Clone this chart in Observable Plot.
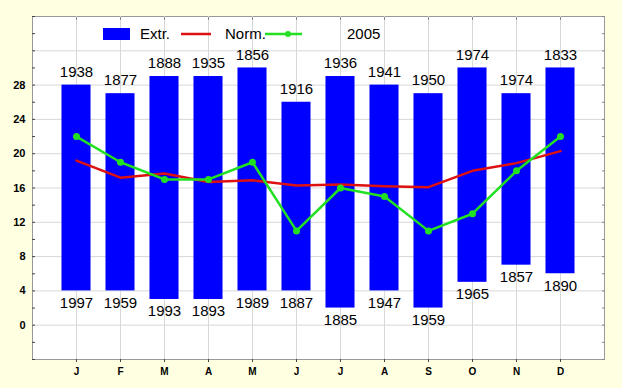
<!DOCTYPE html>
<html>
<head>
<meta charset="utf-8">
<script src="https://cdn.jsdelivr.net/npm/d3@7"></script>
<script src="https://cdn.jsdelivr.net/npm/@observablehq/plot@0.6"></script>
<style>
  html, body { margin: 0; padding: 0; background: #FFFFE1; }
  #chart { width: 622px; height: 388px; overflow: hidden; }
</style>
</head>
<body>
<div id="chart"></div>
<script>
const monthKeys = ["Jan","Feb","Mar","Apr","May","Jun","Jul","Aug","Sep","Oct","Nov","Dec"];
const monthLabels = ["J","F","M","A","M","J","J","A","S","O","N","D"];
const maxTemp = [28,27,29,29,30,26,29,28,27,30,27,30];
const minTemp = [4,4,3,3,4,4,2,4,2,5,7,6];
const maxYear = ["1938","1877","1888","1935","1856","1916","1936","1941","1950","1974","1974","1833"];
const minYear = ["1997","1959","1993","1893","1989","1887","1885","1947","1959","1965","1857","1890"];
const normTemp = [19.2,17.2,17.7,16.7,16.9,16.3,16.4,16.2,16.1,18.0,18.9,20.3];
const temp2005 = [22,19,17,17,19,11,16,15,11,13,18,22];
const yTickLabels = [0,4,8,12,16,20,24,28];
const yGrid = [0,4,8,12,16,20,24,28,32];
const yMinor = d3.range(-4, 37, 2);
const legendLabels = ["Extr.", "Norm.", "2005"];

const data = monthKeys.map((m, i) => ({
  m, lo: minTemp[i], hi: maxTemp[i], loYear: minYear[i], hiYear: maxYear[i],
  norm: normTemp[i], v2005: temp2005[i]
}));

const BLUE = "#0000FF", RED = "#DD1111", GREEN = "#22E022";
const font = "'Liberation Sans', Arial, sans-serif";
const noLabel = () => "";

const plot = Plot.plot({
  width: 622,
  height: 388,
  marginLeft: 32, marginRight: 18, marginTop: 16, marginBottom: 29,
  style: { background: "transparent", fontFamily: font, color: "#000" },
  x: { type: "band", domain: monthKeys, paddingInner: 0.34, paddingOuter: 0.67, round: false },
  y: { domain: [-4, 36] },
  marks: [
    Plot.frame({ fill: "white", stroke: "#999" }),
    Plot.gridX({ stroke: "#d8d8d8", strokeOpacity: 1 }),
    Plot.gridY(yGrid, { stroke: "#d8d8d8", strokeOpacity: 1 }),
    Plot.barY(data, { x: "m", y1: "lo", y2: "hi", fill: BLUE }),
    Plot.lineY(data, { x: "m", y: "norm", stroke: RED, strokeWidth: 2.5 }),
    Plot.lineY(data, { x: "m", y: "v2005", stroke: GREEN, strokeWidth: 2.5 }),
    Plot.dot(data, { x: "m", y: "v2005", fill: GREEN, r: 3.5 }),
    Plot.text(data, { x: "m", y: "hi", text: "hiYear", dy: -13, fontSize: 15, fill: "#000" }),
    Plot.text(data, { x: "m", y: "lo", text: "loYear", dy: 12, fontSize: 15, fill: "#000" }),
    Plot.axisY(yMinor, { anchor: "left", tickSize: -3, tickFormat: noLabel, label: null, stroke: "#444" }),
    Plot.axisY(yMinor, { anchor: "right", tickSize: -3, tickFormat: noLabel, label: null, stroke: "#888" }),
    Plot.axisY(yTickLabels, { anchor: "left", tickSize: 0, tickPadding: 7, label: null, fontSize: 11, fontWeight: "bold", line: true, stroke: "#444" }),
    Plot.axisX({ anchor: "bottom", tickSize: 3, tickPadding: 5, label: null, fontSize: 10, fontWeight: "bold", line: true, stroke: "#444", tickFormat: (d) => monthLabels[monthKeys.indexOf(d)] }),
    Plot.axisX({ anchor: "top", tickSize: -3, tickFormat: noLabel, label: null, stroke: "#888" })
  ]
});

document.getElementById("chart").appendChild(plot);

// Legend inside the plot area
const svg = d3.select(plot);
const lg = svg.append("g").attr("font-family", font).attr("font-size", 15).attr("text-anchor", "start").attr("fill", "#000");
lg.append("rect").attr("x", 103).attr("y", 28).attr("width", 27).attr("height", 12).attr("fill", BLUE);
lg.append("text").attr("x", 140).attr("y", 39).text(legendLabels[0]);
lg.append("line").attr("x1", 181).attr("x2", 211).attr("y1", 34).attr("y2", 34).attr("stroke", RED).attr("stroke-width", 2.5);
lg.append("text").attr("x", 225).attr("y", 39).text(legendLabels[1]);
lg.append("line").attr("x1", 265).attr("x2", 302).attr("y1", 34).attr("y2", 34).attr("stroke", GREEN).attr("stroke-width", 2.5);
lg.append("circle").attr("cx", 288).attr("cy", 34).attr("r", 3).attr("fill", GREEN);
lg.append("text").attr("x", 347).attr("y", 39).text(legendLabels[2]);
</script>
</body>
</html>
